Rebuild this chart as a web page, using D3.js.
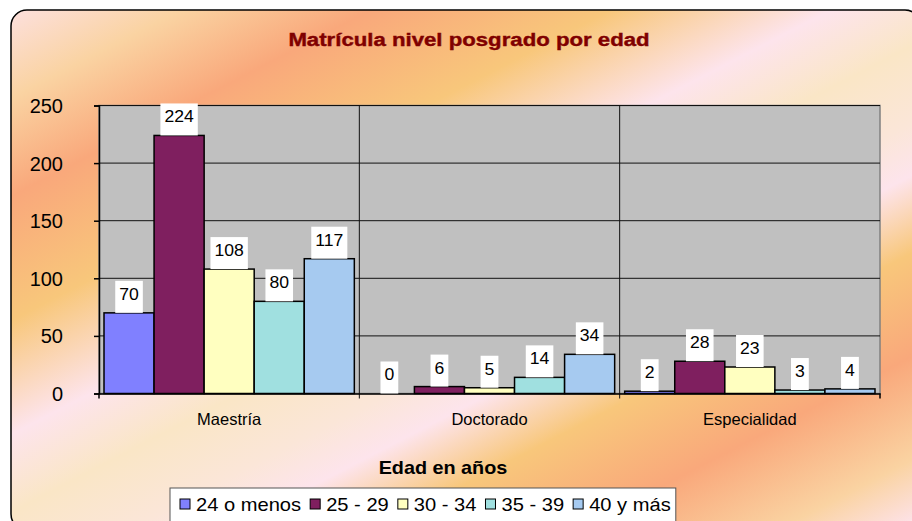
<!DOCTYPE html>
<meta charset="utf-8">
<style>
body { margin: 0; background: #fff; }
text { font-family: "Liberation Sans", Arial, sans-serif; fill: #000; }
</style>
<body>
<script src="https://cdn.jsdelivr.net/npm/d3@7/dist/d3.min.js"></script>
<script>

// data
const categories = ["Maestría", "Doctorado", "Especialidad"];
const series = ["24 o menos", "25 - 29", "30 - 34", "35 - 39", "40 y más"];
const values = {
  "24 o menos": [70, 0, 2],
  "25 - 29":    [224, 6, 28],
  "30 - 34":    [108, 5, 23],
  "35 - 39":    [80, 14, 3],
  "40 y más":   [117, 34, 4]
};
const yTicks = [0, 50, 100, 150, 200, 250];
const colors = ["#8080ff", "#7f1f5f", "#ffffc0", "#a0e0e0", "#a6caf0"];

const width = 912, height = 521;

const svg = d3.select("body").append("svg")
    .attr("width", width)
    .attr("height", height);

// background gradient of the chart frame
const defs = svg.append("defs");
const grad = defs.append("linearGradient")
    .attr("id", "bg")
    .attr("gradientUnits", "userSpaceOnUse")
    .attr("x1", 0).attr("y1", 0)
    .attr("x2", 423).attr("y2", 817);
[
  [0.00, "#fde2e8"],
  [0.10, "#fad3a2"],
  [0.195, "#f9a87b"],
  [0.315, "#f8c77b"],
  [0.425, "#fde4ec"],
  [0.50, "#fae6c6"],
  [0.575, "#fbe6d8"],
  [0.625, "#fde4ec"],
  [0.70, "#f8c77b"],
  [0.80, "#f9a87b"],
  [0.90, "#fad3a2"],
  [0.96, "#fde2e8"]
].forEach(function(s) {
  grad.append("stop").attr("offset", s[0]).attr("stop-color", s[1]);
});

svg.append("rect")
    .attr("x", 11).attr("y", 10)
    .attr("width", 910).attr("height", 520)
    .attr("rx", 16)
    .attr("fill", "url(#bg)")
    .attr("stroke", "#000")
    .attr("stroke-width", 1.5);

// stretch text horizontally around its anchor point
function stretch(sel, sx) {
  sel.attr("transform", function() {
    const x = +this.getAttribute("x"), y = +this.getAttribute("y");
    return "translate(" + x + "," + y + ") scale(" + sx + ",1) translate(" + (-x) + "," + (-y) + ")";
  });
}

// title
svg.append("text")
    .attr("x", 469).attr("y", 46)
    .attr("text-anchor", "middle")
    .style("font-size", "18.5px")
    .style("font-weight", "bold")
    .style("fill", "#800000")
    .style("stroke", "#800000")
    .style("stroke-width", 0.4)
    .text("Matrícula nivel posgrado por edad")
    .call(stretch, 1.2);

// scales
const plot = {left: 99, right: 880, top: 105.5, bottom: 393.5};

const x0 = d3.scaleBand()
    .domain(categories)
    .range([plot.left, plot.right]);

const x1 = d3.scaleBand()
    .domain(series)
    .range([0, x0.bandwidth()])
    .paddingOuter(0.1);

const y = d3.scaleLinear()
    .domain([0, 250])
    .range([plot.bottom, plot.top]);

// plot area
svg.append("rect")
    .attr("x", plot.left).attr("y", plot.top)
    .attr("width", plot.right - plot.left)
    .attr("height", plot.bottom - plot.top)
    .attr("fill", "#c0c0c0")
    .attr("stroke", "#808080")
    .attr("stroke-width", 1.5);

// gridlines
svg.append("g").selectAll("line")
    .data(yTicks.filter(function(d) { return d > 0; }))
  .enter().append("line")
    .attr("x1", plot.left).attr("x2", plot.right)
    .attr("y1", function(d) { return y(d); })
    .attr("y2", function(d) { return y(d); })
    .attr("stroke", "#111")
    .attr("stroke-width", 1);

// category separators
svg.append("g").selectAll("line")
    .data(categories.slice(1))
  .enter().append("line")
    .attr("x1", function(d) { return x0(d); })
    .attr("x2", function(d) { return x0(d); })
    .attr("y1", plot.top).attr("y2", plot.bottom + 5)
    .attr("stroke", "#111")
    .attr("stroke-width", 1);

// y axis
const yAxis = svg.append("g")
    .attr("transform", "translate(" + plot.left + ",0)")
    .call(d3.axisLeft(y).tickValues(yTicks).tickSize(5).tickFormat(d3.format("d")));
yAxis.select(".domain").attr("stroke", "#000").attr("stroke-width", 1.5);
yAxis.selectAll(".tick line").attr("stroke", "#000").attr("stroke-width", 1.5);
yAxis.selectAll(".tick text")
    .attr("x", -36)
    .attr("dy", "0.35em")
    .style("font-size", "20px")
    .style("font-family", "'Liberation Sans', Arial, sans-serif")
    .attr("fill", "#000");

// x axis
const xAxis = svg.append("g")
    .attr("transform", "translate(0," + plot.bottom + ")")
    .call(d3.axisBottom(x0).tickSize(0).tickPadding(0).tickSizeOuter(0));
xAxis.select(".domain").attr("stroke", "#000").attr("stroke-width", 1.5);
xAxis.selectAll(".tick text")
    .attr("y", 31)
    .attr("dy", 0)
    .style("font-size", "16.5px")
    .style("font-family", "'Liberation Sans', Arial, sans-serif")
    .attr("fill", "#000");
xAxis.selectAll(".tick line").remove();
svg.append("g").selectAll("line")
    .data([plot.left, plot.right])
  .enter().append("line")
    .attr("x1", function(d) { return d; }).attr("x2", function(d) { return d; })
    .attr("y1", plot.bottom).attr("y2", plot.bottom + 5)
    .attr("stroke", "#000").attr("stroke-width", 1.5);

// bars
const rows = [];
series.forEach(function(s, i) {
  categories.forEach(function(c, j) {
    rows.push({cat: c, ser: s, value: values[s][j], color: colors[i]});
  });
});

const bars = svg.append("g");
bars.selectAll("rect")
    .data(rows.filter(function(d) { return d.value > 0; }))
  .enter().append("rect")
    .attr("x", function(d) { return x0(d.cat) + x1(d.ser); })
    .attr("y", function(d) { return y(d.value); })
    .attr("width", x1.bandwidth())
    .attr("height", function(d) { return y(0) - y(d.value); })
    .attr("fill", function(d) { return d.color; })
    .attr("stroke", "#000")
    .attr("stroke-width", 1.5);

// data labels on white boxes
const labels = svg.append("g").selectAll("g")
    .data(rows)
  .enter().append("g");

labels.append("text")
    .attr("x", function(d) { return x0(d.cat) + x1(d.ser) + x1.bandwidth() / 2; })
    .attr("y", function(d) { return y(d.value) - 13; })
    .attr("text-anchor", "middle")
    .style("font-size", "16px")
    .text(function(d) { return d.value; })
    .each(function(d) { d.tw = this.getComputedTextLength() * 1.1; })
    .call(stretch, 1.1);

labels.insert("rect", "text")
    .attr("x", function(d) { return x0(d.cat) + x1(d.ser) + x1.bandwidth() / 2 - d.tw / 2 - 4; })
    .attr("y", function(d) { return y(d.value) - 32; })
    .attr("width", function(d) { return d.tw + 8; })
    .attr("height", 32)
    .attr("fill", "#fff");

// axis title
svg.append("text")
    .attr("x", 443).attr("y", 474)
    .attr("text-anchor", "middle")
    .style("font-size", "18px")
    .style("font-weight", "bold")
    .text("Edad en años")
    .call(stretch, 1.1);

// legend
const legend = svg.append("g");
const legendBox = legend.append("rect")
    .attr("x", 170).attr("y", 488)
    .attr("height", 45)
    .attr("fill", "#fff")
    .attr("stroke", "#555")
    .attr("stroke-width", 1);

let lx = 180;
series.forEach(function(s, i) {
  legend.append("rect")
      .attr("x", lx).attr("y", 499)
      .attr("width", 10).attr("height", 10)
      .attr("fill", colors[i])
      .attr("stroke", "#000")
      .attr("stroke-width", 1);
  const t = legend.append("text")
      .attr("x", lx + 16).attr("y", 511)
      .style("font-size", "17.5px")
      .text(s);
  const w = t.node().getComputedTextLength() * 1.15;
  t.call(stretch, 1.15);
  lx += 16 + w + 9;
});
legendBox.attr("width", lx - 170 - 4);

</script>
